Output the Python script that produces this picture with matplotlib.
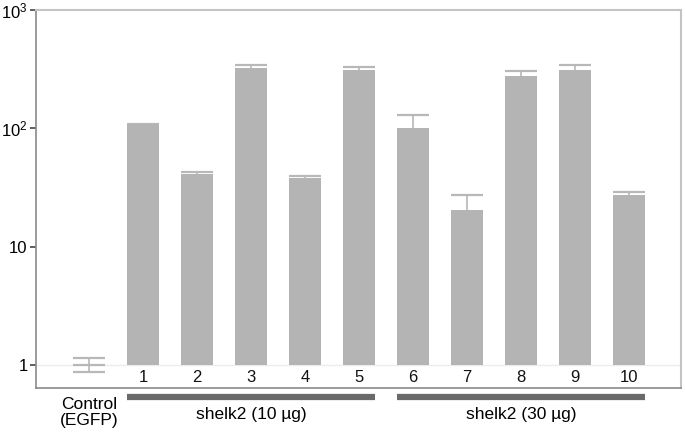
import numpy as np
import matplotlib
matplotlib.use("Agg")
import matplotlib.pyplot as plt
import matplotlib.transforms as mtransforms

plt.rcParams["font.family"] = ["Liberation Sans", "DejaVu Sans"]
plt.rcParams["mathtext.fontset"] = "custom"
plt.rcParams["mathtext.rm"] = "Liberation Sans"
plt.rcParams["mathtext.it"] = "Liberation Sans"

# data (relative expression, log scale)
bar_labels = ["", "1", "2", "3", "4", "5", "6", "7", "8", "9", "10"]
means = [1.0, 108, 41, 322, 38, 310, 101, 20.6, 277, 310, 27.5]
err_upper = [0.146, 1.0, 2.0, 21, 1.5, 20, 28, 6.5, 26, 33, 1.5]
err_lower = [0.127, 0, 0, 0, 0, 0, 0, 0, 0, 0, 0]
groups = [("shelk2 (10 µg)", 1, 5), ("shelk2 (30 µg)", 6, 10)]
control_label = "Control\n(EGFP)"
yticks = [1, 10, 100, 1000]
ytick_labels = ["1", "10", "$10^2$", "$10^3$"]

bar_color = "#b4b4b4"
err_color = "#b8b8b8"
width = 0.6

fig = plt.figure(figsize=(6.85, 4.36), dpi=100)
ax = fig.add_axes([0.0526, 0.110, 0.9414, 0.867])

x = np.arange(len(means))
means = np.array(means)
top = means + np.array(err_upper)
bottom = means - np.array(err_lower)

ax.set_yscale("log")
ax.set_ylim(0.64, 1000)
ax.set_xlim(-0.98, 10.96)

ax.axhline(1, color="#ececec", lw=1, zorder=0)
ax.bar(x[1:], means[1:] - 1, bottom=1, width=width,
       color=bar_color, edgecolor="none", zorder=3)

# error bars: stem + caps (lower part hidden behind bars)
ax.vlines(x, bottom, top, color=err_color, lw=1.2, zorder=2)
ax.hlines(top, x - width / 2, x + width / 2, color=err_color, lw=1.6, zorder=2)
ax.hlines(bottom[:1], x[:1] - width / 2, x[:1] + width / 2, color=err_color, lw=1.6, zorder=2)
# control: flat line at its mean
ax.hlines(means[:1], x[:1] - width / 2, x[:1] + width / 2, color=err_color, lw=1.6, zorder=2)

for xi, lab in zip(x, bar_labels):
    ax.text(xi, 0.78, lab, ha="center", va="center", fontsize=12, color="#111111")

ax.set_yticks(yticks)
ax.set_yticklabels(ytick_labels, fontsize=12)
ax.yaxis.set_minor_locator(matplotlib.ticker.NullLocator())
ax.set_xticks([])
ax.tick_params(axis="y", length=4, width=1.2, color="#444444", pad=2)

for side in ["left", "bottom"]:
    ax.spines[side].set_color("#8a8a8a")
    ax.spines[side].set_linewidth(1.2)
for side in ["top", "right"]:
    ax.spines[side].set_color("#c4c4c4")
    ax.spines[side].set_linewidth(1.5)

trans = mtransforms.blended_transform_factory(ax.transData, ax.transAxes)
for name, first, last in groups:
    x0 = x[first] - width / 2
    x1 = x[last] + width / 2
    ax.plot([x0, x1], [-0.024, -0.024], transform=trans, color="#6a6a6a",
            lw=4.5, solid_capstyle="butt", clip_on=False)
    ax.text((x0 + x1) / 2, -0.071, name, transform=trans, ha="center", va="center",
            fontsize=12.5)
ax.text(x[0], -0.065, control_label, transform=trans, ha="center", va="center",
        fontsize=12.5, linespacing=1.1)

fig.savefig("out.png", dpi=100)
